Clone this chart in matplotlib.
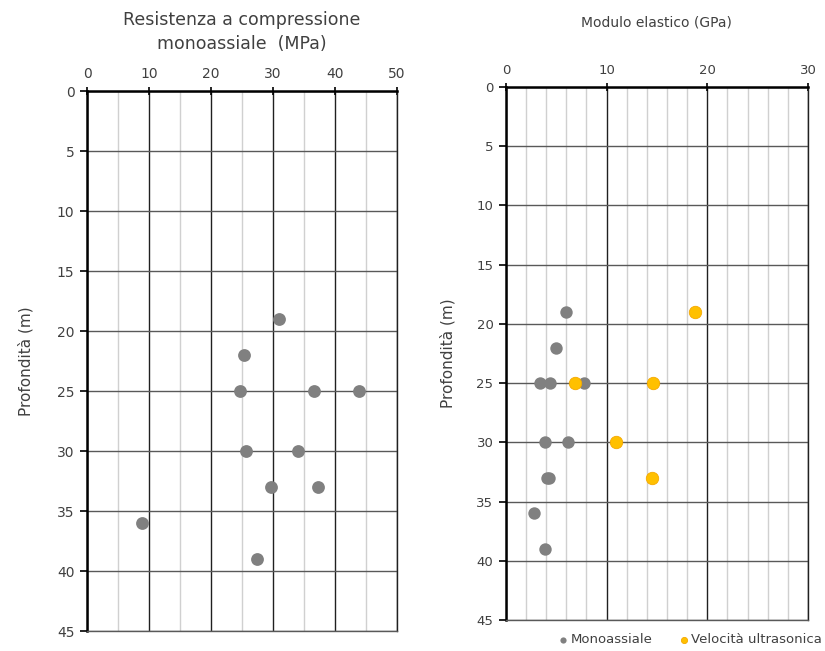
import matplotlib.pyplot as plt
from matplotlib.ticker import MultipleLocator

plt.rcParams['font.family'] = ['DejaVu Sans']

# resistenza a compressione monoassiale (MPa) vs profondita (m)
ucs_x = [31.0, 25.3, 24.7, 36.6, 43.9, 25.6, 34.0, 29.7, 37.3, 8.9, 27.4]
ucs_z = [19, 22, 25, 25, 25, 30, 30, 33, 33, 36, 39]

# modulo elastico (GPa)
mono_x = [6.0, 5.0, 3.4, 4.4, 7.8, 3.9, 6.2, 4.1, 4.3, 2.8, 3.9]
mono_z = [19, 22, 25, 25, 25, 30, 30, 33, 33, 36, 39]
ultra_x = [18.8, 6.9, 14.6, 10.9, 14.5]
ultra_z = [19, 25, 25, 30, 33]

txt = '#404040'
grey = '#808080'
orange = '#FFC000'

fig = plt.figure(figsize=(8.25, 6.51), dpi=100)


def setup(ax, xmax, major, minor, labsize):
    ax.set_xlim(0, xmax)
    ax.set_ylim(45, 0)
    ax.xaxis.set_major_locator(MultipleLocator(major))
    ax.xaxis.set_minor_locator(MultipleLocator(minor))
    ax.yaxis.set_major_locator(MultipleLocator(5))
    ax.xaxis.tick_top()
    ax.grid(True, which='minor', axis='x', color='#d0d0d0', lw=1)
    ax.grid(True, which='major', axis='x', color='#202020', lw=1)
    ax.grid(True, which='major', axis='y', color='#595959', lw=1)
    ax.set_axisbelow(True)
    ax.spines['right'].set_color('#202020')
    ax.spines['right'].set_linewidth(1)
    ax.spines['bottom'].set_color('#595959')
    ax.spines['bottom'].set_linewidth(1)
    ax.spines['top'].set_linewidth(1.8)
    ax.spines['left'].set_linewidth(1.8)
    ax.tick_params(axis='x', which='major', direction='inout', length=6, width=1.2,
                   labelsize=labsize, labelcolor=txt, pad=4)
    ax.tick_params(axis='x', which='minor', length=0)
    ax.tick_params(axis='y', direction='out', length=5, width=1.2,
                   labelsize=labsize, labelcolor=txt, pad=4)


ax1 = fig.add_axes([0.1055, 0.0307, 0.3758, 0.8295])
setup(ax1, 50, 10, 5, 10)
ax1.scatter(ucs_x, ucs_z, s=85, color=grey, zorder=3, linewidths=0)
ax1.set_ylabel('Profondità (m)', fontsize=11, color=txt, labelpad=17)
fig.text(0.2935, 0.951, 'Resistenza a compressione\nmonoassiale  (MPa)', ha='center',
         va='center', fontsize=12.5, color=txt, linespacing=1.45)

ax2 = fig.add_axes([0.6133, 0.0476, 0.366, 0.8187])
setup(ax2, 30, 10, 2, 9.5)
ax2.scatter(mono_x, mono_z, s=80, color=grey, zorder=3, linewidths=0, label='Monoassiale')
ax2.scatter(ultra_x, ultra_z, s=80, color=orange, edgecolor='#f5a800', linewidths=0.6,
            zorder=3, label='Velocità ultrasonica')
ax2.set_ylabel('Profondità (m)', fontsize=11, color=txt, labelpad=15)
fig.text(0.796, 0.966, 'Modulo elastico (GPa)', ha='center', va='center',
         fontsize=10, color=txt)

leg = ax2.legend(loc='upper right', bbox_to_anchor=(1.05, -0.022), ncol=2, frameon=False,
                 fontsize=9.5, markerscale=0.5, handletextpad=-0.2, handlelength=1.5,
                 columnspacing=1.6, borderaxespad=0, borderpad=0.1)
for t in leg.get_texts():
    t.set_color(txt)

fig.savefig('out.png', dpi=100, facecolor='white')
